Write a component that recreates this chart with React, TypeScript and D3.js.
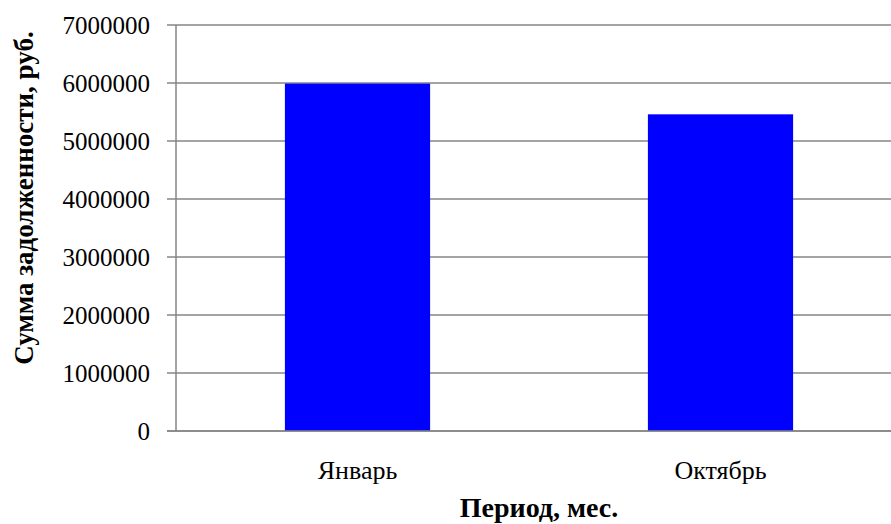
import React from "react";
import * as d3 from "d3";

const categories = ["Январь", "Октябрь"];
const values = [5990000, 5460000];
const yTicks = [0, 1000000, 2000000, 3000000, 4000000, 5000000, 6000000, 7000000];
const yTitle = "Сумма задолженности, руб.";
const xTitle = "Период, мес.";

const W = 891;
const H = 524;
const plotLeft = 176;
const plotRight = 902;
const plotTop = 25;
const plotBottom = 431;

const FONT = "Liberation Serif, Tinos, DejaVu Serif, serif";

export default function App() {
  const x = d3
    .scaleBand<string>()
    .domain(categories)
    .range([plotLeft, plotRight])
    .paddingInner(0.6)
    .paddingOuter(0.3);
  const y = d3.scaleLinear().domain([0, 7000000]).range([plotBottom, plotTop]);
  const grid = "#868686";
  const ts = { fontFamily: FONT };

  return (
    <svg
      width={W}
      height={H}
      style={{ position: "absolute", left: 0, top: 0, background: "#fff", fontFamily: FONT }}
    >
      <rect x={0} y={0} width={W} height={H} fill="#fff" />
      {yTicks.map((t) => (
        <g key={t}>
          <line x1={167} x2={W} y1={y(t)} y2={y(t)} stroke={grid} strokeWidth={1.5} />
          <text x={150} y={y(t)} dy="0.34em" textAnchor="end" fontSize={25} fill="#000" style={ts}>
            {t}
          </text>
        </g>
      ))}
      {categories.map((c, i) => (
        <rect
          key={c}
          x={x(c)}
          y={y(values[i])}
          width={x.bandwidth()}
          height={y(0) - y(values[i])}
          fill="#0000FF"
        />
      ))}
      <line x1={plotLeft} x2={plotLeft} y1={plotTop} y2={plotBottom} stroke={grid} strokeWidth={1.5} />
      <line x1={167} x2={W} y1={plotBottom} y2={plotBottom} stroke={grid} strokeWidth={1.5} />
      {categories.map((c) => (
        <text
          key={c}
          x={(x(c) ?? 0) + x.bandwidth() / 2}
          y={479}
          textAnchor="middle"
          fontSize={26}
          fill="#000"
          style={ts}
        >
          {c}
        </text>
      ))}
      <text
        x={(plotLeft + plotRight) / 2}
        y={517}
        textAnchor="middle"
        fontSize={28}
        fontWeight="bold"
        fill="#000"
        style={ts}
      >
        {xTitle}
      </text>
      <text
        transform={`translate(33, 198) rotate(-90)`}
        textAnchor="middle"
        fontSize={27}
        fontWeight="bold"
        fill="#000"
        style={ts}
      >
        {yTitle}
      </text>
    </svg>
  );
}
